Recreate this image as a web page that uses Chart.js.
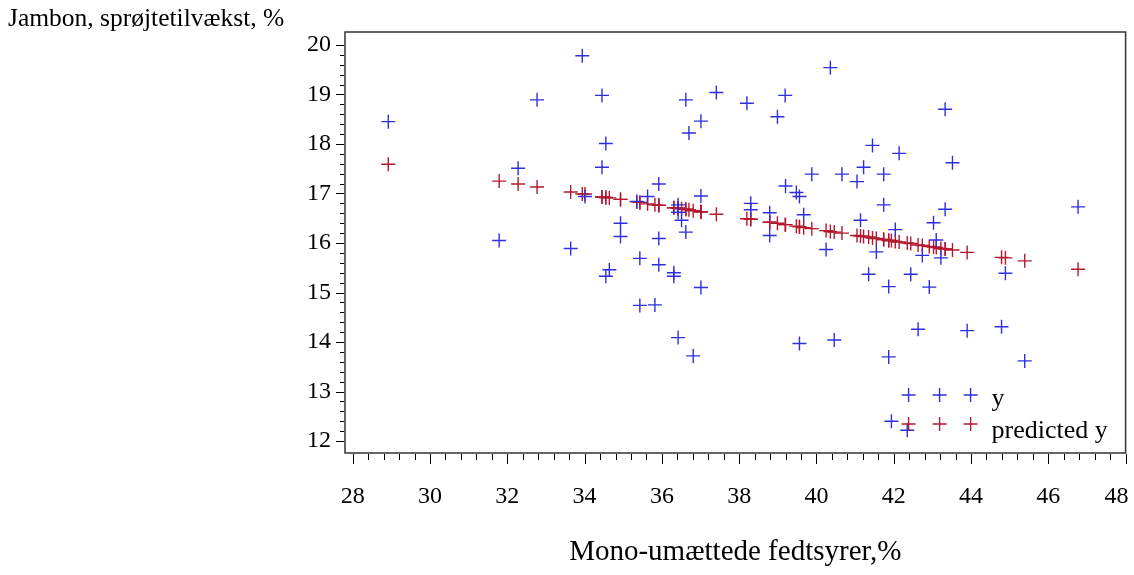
<!DOCTYPE html>
<html>
<head>
<meta charset="utf-8">
<script src="https://cdn.jsdelivr.net/npm/chart.js@4/dist/chart.umd.min.js"></script>
<style>
html, body { margin: 0; padding: 0; background: #fff; }
#wrap { width: 1134px; height: 575px; }
</style>
</head>
<body>
<div id="wrap"><canvas id="myChart"></canvas></div>
<script>
// Mono-unsaturated fatty acids (x), observed y and predicted y
var fatX = [28.92, 31.79, 32.28, 32.77, 33.64, 33.94, 34.01, 34.45, 34.45, 34.55,
            34.55, 34.64, 34.93, 34.93, 35.35, 35.43, 35.43, 35.63, 35.82, 35.92,
            35.92, 35.92, 36.31, 36.31, 36.42, 36.42, 36.42, 36.51, 36.62, 36.62,
            36.70, 36.81, 37.01, 37.01, 37.01, 37.41, 38.20, 38.30, 38.30, 38.79,
            38.79, 38.99, 39.19, 39.20, 39.48, 39.56, 39.56, 39.67, 39.88, 40.25,
            40.36, 40.46, 40.66, 41.05, 41.14, 41.22, 41.35, 41.45, 41.55, 41.74,
            41.74, 41.87, 41.87, 41.94, 42.04, 42.14, 42.35, 42.44, 42.63, 42.74,
            42.92, 43.03, 43.10, 43.22, 43.33, 43.33, 43.52, 43.90, 44.79, 44.89,
            45.39, 46.77];
var sprayY = [18.45, 16.05, 17.51, 18.89, 15.89, 19.78, 16.94, 18.98, 17.53, 18.01,
              15.33, 15.46, 16.40, 16.13, 16.84, 15.69, 14.74, 16.94, 14.75, 17.19,
              16.09, 15.56, 15.40, 15.33, 16.77, 16.62, 14.09, 16.46, 18.89, 16.22,
              18.22, 13.72, 18.46, 16.95, 15.10, 19.04, 18.82, 16.80, 16.67, 16.61,
              16.15, 18.55, 18.98, 17.15, 17.02, 16.94, 13.97, 16.57, 17.39, 15.87,
              19.54, 14.04, 17.39, 17.24, 16.46, 17.53, 15.37, 17.97, 15.82, 17.39,
              16.77, 15.12, 13.70, 12.40, 16.27, 17.81, 12.22, 15.37, 14.26, 15.75,
              15.11, 16.41, 16.06, 15.70, 18.70, 16.68, 17.62, 14.23, 14.31, 15.39,
              13.62, 16.73];
var predictedY = [17.59, 17.25, 17.19, 17.13, 17.03, 16.99, 16.99, 16.93, 16.93, 16.92,
                  16.92, 16.91, 16.88, 16.88, 16.83, 16.82, 16.82, 16.79, 16.77, 16.76,
                  16.76, 16.76, 16.71, 16.71, 16.70, 16.70, 16.70, 16.69, 16.68, 16.68,
                  16.67, 16.65, 16.63, 16.63, 16.63, 16.58, 16.49, 16.48, 16.48, 16.42,
                  16.42, 16.40, 16.37, 16.37, 16.34, 16.33, 16.33, 16.31, 16.29, 16.25,
                  16.23, 16.22, 16.20, 16.15, 16.14, 16.13, 16.12, 16.10, 16.09, 16.07,
                  16.07, 16.05, 16.05, 16.05, 16.03, 16.02, 16.00, 15.99, 15.96, 15.95,
                  15.93, 15.92, 15.91, 15.89, 15.88, 15.88, 15.86, 15.81, 15.71, 15.70,
                  15.64, 15.47];
var xTicks = [28, 30, 32, 34, 36, 38, 40, 42, 44, 46, 48];
var yTicks = [12, 13, 14, 15, 16, 17, 18, 19, 20];
var seriesNames = ['y', 'predicted y'];
var seriesColors = ['#2f2fe0', '#b3182e'];
var xTitle = 'Mono-umættede fedtsyrer,%';
var yTitle = 'Jambon, sprøjtetilvækst, %';

var serif = 'Liberation Serif, Times New Roman, serif';

function points(ys) {
    return fatX.map(function (x, i) { return { x: x, y: ys[i] }; });
}

function drawCross(ctx, x, y, r) {
    ctx.beginPath();
    ctx.moveTo(x - r, y); ctx.lineTo(x + r, y);
    ctx.moveTo(x, y - r); ctx.lineTo(x, y + r);
    ctx.stroke();
}

// frame, minor/major ticks, horizontal y label and the SAS-style legend
var sasFrame = {
    id: 'sasFrame',
    afterDraw: function (chart) {
        var ctx = chart.ctx, a = chart.chartArea;
        var xs = chart.scales.x, ys = chart.scales.y;
        ctx.save();
        ctx.strokeStyle = '#333';
        ctx.lineWidth = 1.5;
        ctx.strokeRect(a.left, a.top, a.right - a.left, a.bottom - a.top);

        ctx.strokeStyle = '#000';
        ctx.lineWidth = 1;
        ctx.beginPath();
        for (var i = 0; i <= 50; i++) {
            var px = Math.round(xs.getPixelForValue(28 + i * 0.4)) + 0.5;
            ctx.moveTo(px, a.bottom + 1);
            ctx.lineTo(px, a.bottom + (i % 5 === 0 ? 11 : 7));
        }
        for (var j = 0; j <= 40; j++) {
            var py = Math.round(ys.getPixelForValue(12 + j * 0.2)) + 0.5;
            ctx.moveTo(a.left - 1, py);
            ctx.lineTo(a.left - (j % 5 === 0 ? 9 : 5), py);
        }
        ctx.stroke();

        ctx.fillStyle = '#000';
        ctx.textAlign = 'left';
        ctx.textBaseline = 'alphabetic';
        ctx.font = '25.5px ' + serif;
        ctx.fillText(yTitle, 8, 26);

        // legend: three markers per entry, bottom right inside the frame
        ctx.font = '26px ' + serif;
        var rows = [a.bottom - 58, a.bottom - 29];
        var bases = [a.bottom - 47, a.bottom - 15];
        for (var k = 0; k < seriesNames.length; k++) {
            ctx.strokeStyle = seriesColors[k];
            ctx.lineWidth = 1.4;
            for (var m = 0; m < 3; m++) {
                drawCross(ctx, a.right - 217 + m * 31, rows[k], 7);
            }
            ctx.fillText(seriesNames[k], a.right - 134, bases[k]);
        }
        ctx.restore();
    }
};

var ctx = document.getElementById('myChart').getContext('2d');
var chart = new Chart(ctx, {
    type: 'scatter',
    data: {
        datasets: [{
            label: seriesNames[0],
            data: points(sprayY),
            pointStyle: 'cross',
            pointRadius: 7,
            pointBorderWidth: 1.4,
            borderColor: seriesColors[0],
            backgroundColor: seriesColors[0]
        }, {
            label: seriesNames[1],
            data: points(predictedY),
            pointStyle: 'cross',
            pointRadius: 7,
            pointBorderWidth: 1.4,
            borderColor: seriesColors[1],
            backgroundColor: seriesColors[1]
        }]
    },
    options: {
        responsive: true,
        maintainAspectRatio: false,
        animation: false,
        layout: { padding: { top: 32, right: 8, left: 0, bottom: 0 } },
        plugins: {
            legend: { display: false },
            tooltip: { enabled: false }
        },
        scales: {
            x: {
                type: 'linear',
                min: 27.8,
                max: 48,
                afterBuildTicks: function (s) { s.ticks = xTicks.map(function (v) { return { value: v }; }); },
                afterFit: function (s) { s.height = 122; s.paddingLeft = 0; s.paddingRight = 0; },
                grid: { display: false, drawTicks: false },
                border: { display: false },
                ticks: {
                    padding: 29, color: '#000', maxRotation: 0, autoSkip: false,
                    font: { family: serif, size: 24 },
                    // last label is pulled inside the window, as in the original
                    callback: function (v) { return v === 48 ? v + '   ' : String(v); }
                },
                title: { display: true, text: xTitle, color: '#000', font: { family: serif, size: 29 }, padding: { top: 0, bottom: 5 } }
            },
            y: {
                type: 'linear',
                min: 11.76,
                max: 20.26,
                afterBuildTicks: function (s) { s.ticks = yTicks.map(function (v) { return { value: v }; }); },
                afterFit: function (s) { s.width = 345; s.paddingTop = 0; s.paddingBottom = 0; },
                grid: { display: false, drawTicks: false },
                border: { display: false },
                ticks: { padding: 14, color: '#000', autoSkip: false, font: { family: serif, size: 24 } }
            }
        }
    },
    plugins: [sasFrame]
});
</script>
</body>
</html>
